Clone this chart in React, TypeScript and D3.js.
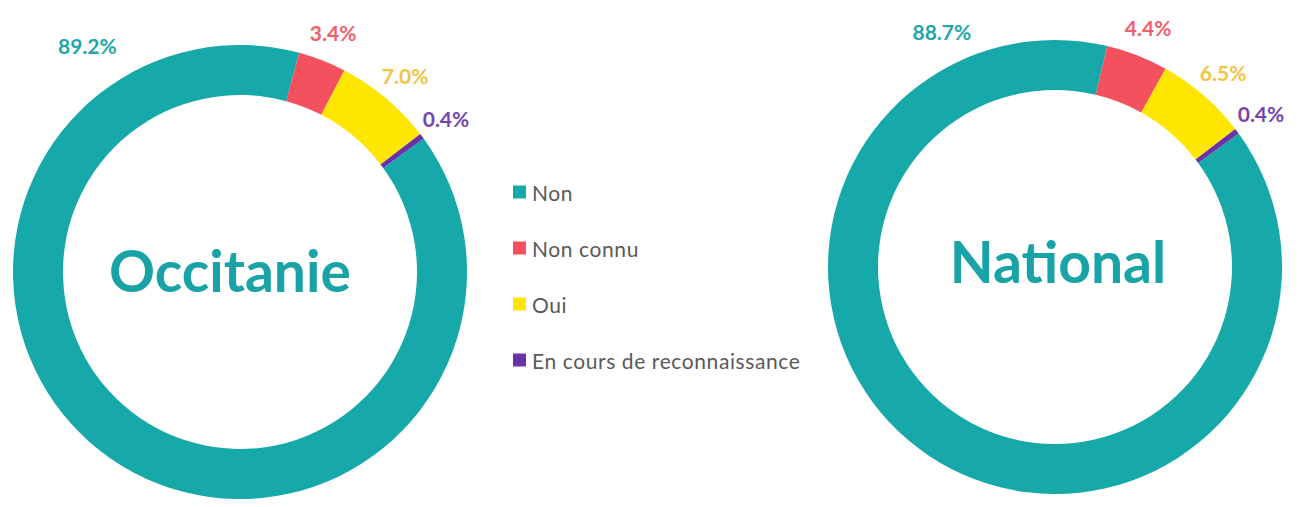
import React from 'react';
import * as d3 from 'd3';

// Categories and values
const categories = ['Non', 'Non connu', 'Oui', 'En cours de reconnaissance'];
const occitanieValues = [89.2, 3.4, 7.0, 0.4];
const nationalValues = [88.7, 4.4, 6.5, 0.4];
const chartTitles = ['Occitanie', 'National'];

const sliceColors = ['#17a8a9', '#f3515d', '#ffe600', '#6a32a6'];
const labelColors = ['#23a7a7', '#f0606b', '#f2c443', '#7446ad'];

const WIDTH = 1316;
const HEIGHT = 507;
const OUTER = 227;
const INNER = 177;
const START = (54 * Math.PI) / 180;

interface DonutProps {
    values: number[];
    title: string;
    cx: number;
    cy: number;
    titleDx: number;
    titleDy: number;
    mainLabelAngle: number; // degrees, for the big slice label
    mainLabelRadius: number;
}

const Donut: React.FC<DonutProps> = ({ values, title, cx, cy, titleDx, titleDy, mainLabelAngle, mainLabelRadius }) => {
    const pie = d3.pie<number>()
        .sort(null)
        .value(d => d)
        .startAngle(START)
        .endAngle(START + 2 * Math.PI);

    const arcs = pie(values);

    const arc = d3.arc<d3.PieArcDatum<number>>()
        .innerRadius(INNER)
        .outerRadius(OUTER);

    const labelRadius = 257;

    const labelPos = (d: d3.PieArcDatum<number>, i: number): [number, number] => {
        if (i === 0) {
            const a = (mainLabelAngle * Math.PI) / 180;
            return [Math.sin(a) * mainLabelRadius, -Math.cos(a) * mainLabelRadius];
        }
        const mid = (d.startAngle + d.endAngle) / 2;
        return [Math.sin(mid) * labelRadius, -Math.cos(mid) * labelRadius];
    };

    return (
        <g transform={`translate(${cx},${cy})`}>
            {arcs.map((d, i) => (
                <path key={i} d={arc(d) || ''} fill={sliceColors[i]} />
            ))}
            {arcs.map((d, i) => {
                const [x, y] = labelPos(d, i);
                return (
                    <text
                        key={`l${i}`}
                        x={x}
                        y={y}
                        textAnchor="middle"
                        dominantBaseline="central"
                        fill={labelColors[i]}
                        fontSize={21}
                        fontWeight="bold"
                    >
                        {d.data.toFixed(1)}%
                    </text>
                );
            })}
            <text
                x={titleDx}
                y={titleDy}
                textAnchor="middle"
                dominantBaseline="central"
                fill="#1aa3a6"
                fontSize={57}
                fontWeight="bold"
            >
                {title}
            </text>
        </g>
    );
};

const App: React.FC = () => {
    const legendY = d3.scalePoint<string>()
        .domain(categories)
        .range([192, 360]);

    return (
        <svg
            width={WIDTH}
            height={HEIGHT}
            style={{ position: 'absolute', left: 0, top: 0, background: '#fff', fontFamily: 'Lato, "Open Sans", sans-serif' }}
        >
            <Donut
                values={occitanieValues}
                title={chartTitles[0]}
                cx={240}
                cy={272}
                titleDx={-10}
                titleDy={-2}
                mainLabelAngle={-34}
                mainLabelRadius={273}
            />
            <Donut
                values={nationalValues}
                title={chartTitles[1]}
                cx={1055}
                cy={267}
                titleDx={3}
                titleDy={-6}
                mainLabelAngle={-25.7}
                mainLabelRadius={261}
            />

            {/* Legend */}
            <g>
                {categories.map((c, i) => (
                    <g key={c} transform={`translate(513,${legendY(c)})`}>
                        <rect x={0} y={-6.5} width={13} height={13} fill={sliceColors[i]} />
                        <text x={19} y={0} dominantBaseline="central" fontSize={21} letterSpacing={0.6} fill="#595959">
                            {c}
                        </text>
                    </g>
                ))}
            </g>
        </svg>
    );
};

export default App;
